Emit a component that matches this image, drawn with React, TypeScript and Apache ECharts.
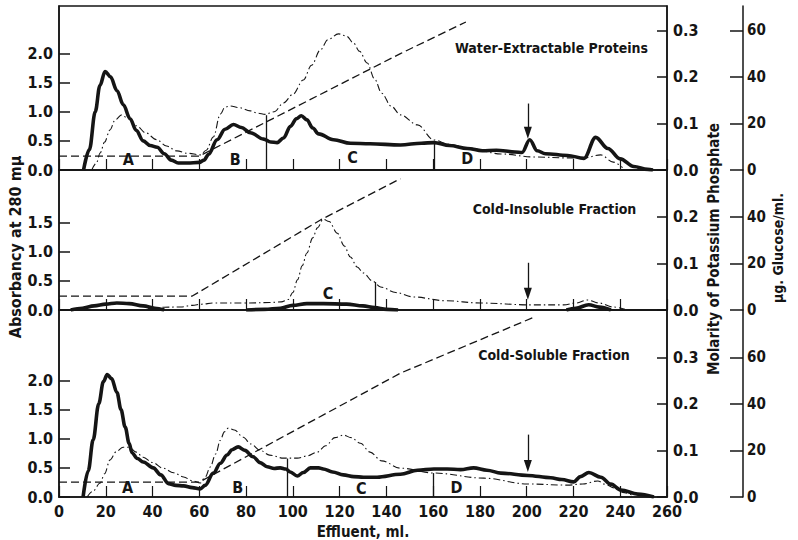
import React, { useEffect, useRef } from 'react';
import * as echarts from 'echarts';

const INK = '#151515';
const FONT = '"DejaVu Sans Condensed", "Liberation Sans Narrow", sans-serif';

// ---------- data (x = effluent ml) ----------
const panelTitles = ['Water-Extractable Proteins', 'Cold-Insoluble Fraction', 'Cold-Soluble Fraction'];
const absTicks = [[0, 0.5, 1, 1.5, 2], [0, 0.5, 1, 1.5], [0, 0.5, 1, 1.5, 2]];
const molTicks = [[0, 0.1, 0.2, 0.3], [0, 0.1, 0.2], [0, 0.1, 0.2, 0.3]];
const gluTicks = [[0, 20, 40, 60], [0, 20, 40], [0, 20, 40, 60]];

// Absorbancy at 280 mμ (thick solid)
const topAbs = [[10.5,0],[13,0.35],[15.5,1.0],[17.5,1.45],[19.7,1.69],[22,1.6],[24.8,1.36],[27.5,1.12],[30.4,0.88],[33,0.68],[36,0.5],[39,0.42],[42,0.39],[45,0.28],[48,0.17],[51,0.12],[55,0.12],[60,0.13],[62,0.17],[64,0.27],[67.6,0.52],[71,0.7],[74.6,0.78],[78,0.73],[81.8,0.64],[87.5,0.53],[90.5,0.48],[93.3,0.47],[96,0.55],[99,0.75],[101.5,0.88],[103.6,0.93],[106,0.86],[108.5,0.72],[111,0.62],[117.4,0.52],[124.6,0.46],[133,0.45],[146,0.43],[155,0.46],[160.3,0.47],[167,0.42],[174.6,0.37],[181,0.33],[187,0.34],[195,0.31],[198,0.3],[201.3,0.52],[204.5,0.33],[208,0.28],[217.5,0.25],[224.5,0.2],[229.5,0.56],[234.7,0.37],[240,0.19],[245.8,0.06],[251.7,0.01],[254,0]];
const midAbs = [[5,0],[10,0.03],[15,0.07],[20,0.1],[24.7,0.12],[30,0.11],[36,0.07],[41,0.03],[45,0],[46,null],[80,0],[88,0.01],[94.6,0.03],[100,0.08],[106,0.11],[113,0.11],[123,0.1],[130,0.07],[135,0.04],[140,0.01],[145,0],[146,null],[217,0],[221,0.03],[226.5,0.09],[231,0.05],[236,0]];
const botAbs = [[10.3,0],[12.5,0.45],[14.6,0.98],[17,1.6],[19,1.98],[20.6,2.1],[22.5,2.03],[24.8,1.79],[26.5,1.5],[28.3,1.2],[30,0.92],[31.2,0.76],[33.5,0.66],[36,0.6],[40.3,0.5],[43.5,0.38],[46.8,0.23],[50,0.2],[53.3,0.19],[57,0.16],[60.4,0.14],[62.5,0.2],[66,0.41],[69,0.58],[71.9,0.72],[74,0.81],[76.6,0.86],[79.5,0.8],[83,0.69],[86,0.59],[89,0.52],[92,0.49],[94.6,0.5],[97,0.48],[98.9,0.43],[101.9,0.36],[104.5,0.42],[107.5,0.5],[111,0.5],[113,0.48],[117,0.43],[121.6,0.38],[126,0.35],[130.2,0.34],[136,0.34],[146,0.39],[153.3,0.46],[160.3,0.48],[166,0.48],[171.7,0.47],[177.3,0.5],[183,0.46],[189,0.41],[200.4,0.37],[210.3,0.33],[215,0.3],[220.1,0.26],[223,0.35],[226.6,0.42],[231.7,0.34],[236,0.22],[240.3,0.12],[247.5,0.05],[254.4,0]];

// Molarity of potassium phosphate (dashed)
const topMol = [[0,0.03],[60,0.03],[146,0.25],[174,0.318]];
const midMol = [[0,0.03],[57,0.03],[112,0.194],[146,0.282]];
const botMol = [[0,0.032],[60,0.032],[146,0.266],[203,0.386]];

// μg glucose / ml (dash-dot)
const topGlu = [[14,0],[16,3],[17.6,7.3],[19.5,12],[21.8,17.2],[24,21.5],[26.8,23.7],[29,22.5],[33.2,19],[37,16],[41.8,13],[46,10.3],[50.4,8.2],[55,7.2],[60.4,6.5],[63,8.5],[66,14.2],[69,24],[71,27],[73.2,27.5],[77,26.8],[81.8,25.4],[85,24.4],[88.2,23.9],[92,25],[96,28.8],[100,32.5],[104.5,38.7],[108,45],[111.8,51.6],[115,56],[119.5,58.5],[123,57.5],[125.9,54.6],[128.5,51],[131.8,46],[135,39],[138,33],[142,27.5],[146,23.7],[153.3,19.4],[160.3,12.9],[167,11],[174.6,9.5],[189,6.9],[203,5.6],[217.5,5.2],[224.5,5.2],[231.7,6.5],[237,3.4],[241,1]];
const midGlu = [[38,0.5],[45,1.2],[52,1.3],[57,2],[61,2.5],[66,3],[80,3],[90,3.2],[95,3.5],[98,4.5],[100,7.5],[102,13],[104,19],[106,24.5],[108.5,31],[110.5,35.3],[113,39],[115.5,38],[119,33],[122,27.5],[124.6,22.8],[127.5,18.5],[130.2,15.9],[134,12.5],[137.5,9.9],[144,7.5],[151.6,5.6],[165,4],[180.3,3],[201.7,2.2],[215.8,2.2],[221,3],[226,4.3],[231,3],[237,1.3],[242,0.3]];
const botGlu = [[12,0],[14.5,2.5],[17.6,6],[19.5,10],[21.8,15.9],[24.5,19.5],[27.4,21.4],[30,21.4],[33,19.3],[36,17.1],[40,14.8],[44.5,12.4],[49,10.4],[53.3,8.6],[57,7],[60.4,6],[62.5,8.5],[64.7,12.9],[67,18.5],[69,24.4],[70.7,28],[72.4,29.6],[75,28.8],[78.8,25.7],[82,22.8],[86,20.1],[90,18],[96,16.7],[101.9,16.7],[106,17.6],[110.5,19.3],[114,22],[118,25.5],[121.6,26.6],[125,25.5],[128.9,23.1],[133,19.3],[138,15.5],[146,12.4],[160.3,10.3],[181.7,8.1],[200.4,5.6],[217.5,5.1],[224,5.6],[230.4,6.9],[234,5.3],[237.3,3.9],[241,2],[245,0.8]];

// fraction letters [name, ml, absorbancy]
const topLetters = [['A',29.6,0.18],['B',75.4,0.18],['C',125.5,0.21],['D',174.6,0.19]];
const midLetters = [['C',115,0.28]];
const botLetters = [['A',29.3,0.16],['B',76.4,0.16],['C',129.3,0.14],['D',170,0.16]];

// fraction separator lines [ml, absorbancy top]
const topCuts = [[88.6,0.94],[160.5,0.5]];
const midCuts = [[135.3,0.48]];
const botCuts = [[97.6,0.66],[160.2,0.41]];

// arrows [ml, from, to] (absorbancy)
const topArrow = [200.5, 1.14, 0.64];
const midArrow = [200.5, 0.81, 0.28];
const botArrow = [200.5, 1.07, 0.53];

const absData = [topAbs, midAbs, botAbs];
const molData = [topMol, midMol, botMol];
const gluData = [topGlu, midGlu, botGlu];
const letterData = [topLetters, midLetters, botLetters];
const cutData = [topCuts, midCuts, botCuts];
const arrowData = [topArrow, midArrow, botArrow];

// ---------- layout ----------
const GRID_LEFT = 59;
const GRID_RIGHT = 131;
const PANELS = [
  { top: 6, height: 164 },
  { top: 170, height: 140 },
  { top: 310, height: 187 },
];
const ABS_PX = 58.3; // px per absorbancy unit
const MOL_PX = 465.5; // px per molar
const GLU_PX = 2.3275; // px per μg/ml
const titlePos = [[551.5, 47.5], [554.5, 208.5], [554, 355]];

const labelStyle = { fontFamily: FONT, fontWeight: 'bold' as const, fontSize: 15, color: INK };

function buildOption() {
  const grid = PANELS.map((p) => ({
    left: GRID_LEFT, right: GRID_RIGHT, top: p.top, height: p.height,
    show: true, borderColor: INK, borderWidth: 1.5, backgroundColor: 'transparent',
  }));
  const xAxis = PANELS.map((_, g) => ({
    gridIndex: g, type: 'value', min: 0, max: 260, interval: 20,
    axisLine: { show: true, lineStyle: { color: INK, width: 1.5 } },
    axisTick: { show: true, inside: true, length: 11, lineStyle: { color: INK, width: 1.2 } },
    axisLabel: { show: g === 2, margin: 6, ...labelStyle, fontSize: 16 },
    splitLine: { show: false },
    name: g === 2 ? 'Effluent, ml.' : '',
    nameLocation: 'middle', nameGap: 27,
    nameTextStyle: { ...labelStyle, fontSize: 15 },
  }));
  const yAxis: any[] = [];
  PANELS.forEach((p, g) => {
    const maxAbs = Math.max(...absTicks[g]);
    const maxMol = Math.max(...molTicks[g]);
    const maxGlu = Math.max(...gluTicks[g]);
    yAxis.push({
      gridIndex: g, type: 'value', position: 'left', min: 0, max: p.height / ABS_PX,
      axisLine: { show: true, lineStyle: { color: INK, width: 1.5 } },
      axisTick: { show: true, inside: true, length: 11, customValues: absTicks[g], lineStyle: { color: INK, width: 1.5 } },
      axisLabel: { customValues: absTicks[g], margin: 6, ...labelStyle, fontSize: 16,
        formatter: (v: number) => (v <= maxAbs + 1e-6 ? v.toFixed(1) : '') },
      splitLine: { show: false },
    });
    yAxis.push({
      gridIndex: g, type: 'value', position: 'right', offset: 0, min: 0, max: p.height / MOL_PX,
      axisLine: { show: true, lineStyle: { color: INK, width: 1.5 } },
      axisTick: { show: true, inside: true, length: 10, customValues: molTicks[g], lineStyle: { color: INK, width: 1.5 } },
      axisLabel: { customValues: molTicks[g], margin: 6, ...labelStyle, fontSize: 16,
        formatter: (v: number) => (v <= maxMol + 1e-6 ? v.toFixed(1) : '') },
      splitLine: { show: false },
    });
    yAxis.push({
      gridIndex: g, type: 'value', position: 'right', offset: 76, min: 0, max: p.height / GLU_PX,
      axisLine: { show: true, lineStyle: { color: INK, width: 1.5 } },
      axisTick: { show: true, inside: true, length: 13, customValues: gluTicks[g], lineStyle: { color: INK, width: 1.5 } },
      axisLabel: { customValues: gluTicks[g], margin: 4, ...labelStyle, fontSize: 15,
        formatter: (v: number) => (v <= maxGlu + 1e-6 ? String(v) : '') },
      splitLine: { show: false },
    });
  });

  const series: any[] = [];
  PANELS.forEach((_, g) => {
    const cuts = cutData[g].map(([x, y]) => [
      { coord: [x, 0], symbol: 'none' },
      { coord: [x, y], symbol: 'none', lineStyle: { width: 1.3, color: INK, type: 'solid' } },
    ]);
    const [ax, a0, a1] = arrowData[g];
    series.push({
      type: 'line', xAxisIndex: g, yAxisIndex: g * 3, data: absData[g],
      showSymbol: false, smooth: 0.35, smoothMonotone: 'x', connectNulls: false,
      lineStyle: { color: INK, width: 3.6 }, z: 4,
      markLine: {
        silent: true, animation: false, label: { show: false },
        lineStyle: { color: INK, width: 1.3, type: 'solid' },
        data: [
          ...cuts,
          [{ coord: [ax, a0], symbol: 'none' }, { coord: [ax, a1], symbol: 'triangle', symbolSize: [8, 12], symbolRotate: 180 }],
        ],
      },
    });
    series.push({
      type: 'line', xAxisIndex: g, yAxisIndex: g * 3 + 1, data: molData[g],
      showSymbol: false, lineStyle: { color: INK, width: 1.3, type: [8, 4] }, z: 3,
    });
    series.push({
      type: 'line', xAxisIndex: g, yAxisIndex: g * 3 + 2, data: gluData[g],
      showSymbol: false, smooth: 0.35, smoothMonotone: 'x',
      lineStyle: { color: INK, width: 1.1, type: [7, 3, 1.5, 3] }, z: 3,
    });
    series.push({
      type: 'scatter', xAxisIndex: g, yAxisIndex: g * 3, symbolSize: 1,
      itemStyle: { opacity: 0 },
      data: letterData[g].map(([n, x, y]) => ({ name: n, value: [x, y] })),
      label: { show: true, position: 'inside', formatter: '{b}', ...labelStyle, fontSize: 16, color: INK, opacity: 1, textBorderWidth: 0 },
      z: 5,
    });
  });

  const graphic: any[] = [
    ...panelTitles.map((t, i) => ({
      type: 'text', x: titlePos[i][0], y: titlePos[i][1],
      style: { text: t, fontFamily: FONT, fontWeight: 'bold', fontSize: 14, fill: INK, align: 'center', verticalAlign: 'middle' },
    })),
    {
      type: 'text', x: 15, y: 247, rotation: Math.PI / 2,
      style: { text: 'Absorbancy at 280 mμ', fontFamily: FONT, fontWeight: 'bold', fontSize: 16, fill: INK, align: 'center', verticalAlign: 'middle' },
    },
    {
      type: 'text', x: 714, y: 249, rotation: Math.PI / 2,
      style: { text: 'Molarity of Potassium Phosphate', fontFamily: FONT, fontWeight: 'bold', fontSize: 15, fill: INK, align: 'center', verticalAlign: 'middle' },
    },
    {
      type: 'text', x: 778, y: 248, rotation: Math.PI / 2,
      style: { text: 'μg. Glucose/ml.', fontFamily: FONT, fontWeight: 'bold', fontSize: 14, fill: INK, align: 'center', verticalAlign: 'middle' },
    },
  ];

  return { animation: false, backgroundColor: '#ffffff', grid, xAxis, yAxis, series, graphic };
}

export default function App() {
  const ref = useRef<HTMLDivElement>(null);
  useEffect(() => {
    if (!ref.current) return;
    const chart = echarts.init(ref.current, undefined, { renderer: 'svg' });
    chart.setOption(buildOption() as any);
    return () => chart.dispose();
  }, []);
  return <div ref={ref} style={{ position: 'fixed', left: 0, top: 0, width: 798, height: 540, background: '#fff' }} />;
}
